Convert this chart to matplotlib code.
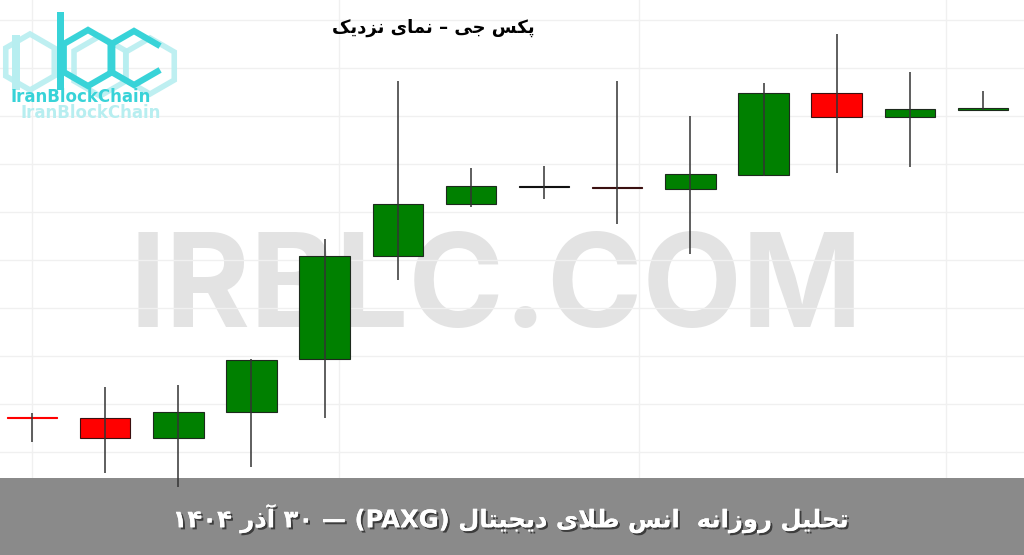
import matplotlib
matplotlib.use("Agg")
import matplotlib.pyplot as plt
from matplotlib.patches import Rectangle, RegularPolygon
import matplotlib.patheffects as pe
import numpy as np

# ---------------- data (PAXG daily candles) ----------------
opens  = [4293.3, 4293.0, 4288.0, 4294.5, 4307.8, 4333.5, 4346.5, 4350.8, 4350.8, 4350.3, 4353.8, 4374.3, 4368.3, 4370.1]
highs  = [4294.3, 4300.8, 4301.3, 4307.8, 4337.8, 4377.3, 4355.5, 4356.0, 4377.3, 4368.5, 4376.8, 4389.0, 4379.5, 4374.8]
lows   = [4287.0, 4279.3, 4275.8, 4280.8, 4293.0, 4327.5, 4345.8, 4347.8, 4341.5, 4334.0, 4353.5, 4354.3, 4355.8, 4370.1]
closes = [4293.0, 4288.0, 4294.5, 4307.5, 4333.5, 4346.5, 4351.0, 4350.8, 4350.5, 4354.0, 4374.3, 4368.3, 4370.3, 4370.4]

title_text = "پکس جی – نمای نزدیک"
footer_text = "تحلیل روزانه  انس طلای دیجیتال (PAXG) — ۳۰ آذر ۱۴۰۴"
watermark_text = "IRBLC.COM"
logo_text = "IranBlockChain"

# ---------------- minimal Persian shaping (visual order) ----------------
FORMS = {
    'ا': ('\uFE8D', '\uFE8E', None, None),
    'آ': ('\uFE81', '\uFE82', None, None),
    'پ': ('\uFB56', '\uFB57', '\uFB58', '\uFB59'),
    'ت': ('\uFE95', '\uFE96', '\uFE97', '\uFE98'),
    'ج': ('\uFE9D', '\uFE9E', '\uFE9F', '\uFEA0'),
    'ح': ('\uFEA1', '\uFEA2', '\uFEA3', '\uFEA4'),
    'د': ('\uFEA9', '\uFEAA', None, None),
    'ذ': ('\uFEAB', '\uFEAC', None, None),
    'ر': ('\uFEAD', '\uFEAE', None, None),
    'ز': ('\uFEAF', '\uFEB0', None, None),
    'س': ('\uFEB1', '\uFEB2', '\uFEB3', '\uFEB4'),
    'ط': ('\uFEC1', '\uFEC2', '\uFEC3', '\uFEC4'),
    'ک': ('\uFB8E', '\uFB8F', '\uFB90', '\uFB91'),
    'ل': ('\uFEDD', '\uFEDE', '\uFEDF', '\uFEE0'),
    'م': ('\uFEE1', '\uFEE2', '\uFEE3', '\uFEE4'),
    'ن': ('\uFEE5', '\uFEE6', '\uFEE7', '\uFEE8'),
    'ه': ('\uFEE9', '\uFEEA', '\uFEEB', '\uFEEC'),
    'و': ('\uFEED', '\uFEEE', None, None),
    'ی': ('\uFBFC', '\uFBFD', '\uFBFE', '\uFBFF'),
}
LAMALEF = {'ا': ('\uFEFB', '\uFEFC'), 'آ': ('\uFEF5', '\uFEF6')}


def dual(c):
    return c in FORMS and FORMS[c][2] is not None


def shape_word(w):
    chars = list(w)
    n = len(chars)
    res = []
    i = 0
    while i < n:
        c = chars[i]
        if c not in FORMS:
            res.append(c)
            i += 1
            continue
        prev = chars[i - 1] if i > 0 else None
        nxt = chars[i + 1] if i + 1 < n else None
        jp = dual(prev)
        if c == 'ل' and nxt in LAMALEF:
            res.append(LAMALEF[nxt][1] if jp else LAMALEF[nxt][0])
            i += 2
            continue
        jn = dual(c) and (nxt in FORMS)
        iso, fin, ini, med = FORMS[c]
        if jp and jn:
            res.append(med)
        elif jn:
            res.append(ini)
        elif jp:
            res.append(fin)
        else:
            res.append(iso)
        i += 1
    return ''.join(reversed(res))


def visual(text):
    out = []
    for t in text.split(' '):
        if any(ch in FORMS for ch in t):
            out.append(shape_word(t))
        else:
            out.append(t)
    return ' '.join(reversed(out))


# ---------------- figure ----------------
W, H = 1024, 555
fig = plt.figure(figsize=(W / 100, H / 100), dpi=100)
fig.patch.set_facecolor('white')
ax = fig.add_axes([0, 0, 1, 1])
ax.set_facecolor('white')

px_per_unit = 73.15
ax.set_xlim(-32 / px_per_unit, (W - 32) / px_per_unit)
ax.set_ylim(4397.5 - 0.25 * H, 4397.5)

# faint grid
ax.set_xticks([0.0, 4.2, 8.3, 12.5])
ax.set_yticks(np.arange(4284.5, 4395, 12))
ax.grid(True, color='#f0f0f0', linewidth=1.0)
ax.set_axisbelow(True)
ax.tick_params(length=0, labelbottom=False, labelleft=False)
for s in ax.spines.values():
    s.set_visible(False)

# watermark
ax.text(496 / W, 1 - 327 / H, watermark_text, transform=ax.transAxes,
        fontsize=93, fontweight='bold', family='Inter', color='#e3e3e3',
        ha='center', va='baseline', zorder=0.5)

# bottom band
ax.add_patch(Rectangle((0, 0), 1, 77 / H, transform=ax.transAxes,
                       facecolor='#8a8a8a', edgecolor='none', zorder=1))

# candles
width = 0.69
for i, (o, h, l, c) in enumerate(zip(opens, highs, lows, closes)):
    if c > o:
        col, edge = '#008000', '#1d2a1d'
    elif c < o:
        col, edge = '#ff0000', '#3a1010'
    else:
        col, edge = '#111111', '#111111'
    body = abs(c - o)
    if body < 0.5:
        edge = col if i == 0 else edge
        body = 0.3
    ax.vlines(i, l, h, color='#333333', linewidth=1.1, zorder=3)
    ax.add_patch(Rectangle((i - width / 2, min(o, c)), width, body,
                           facecolor=col, edgecolor=edge, linewidth=0.8, zorder=2))

# title
ax.text(433 / W, 1 - 28 / H, visual(title_text), transform=ax.transAxes,
        fontsize=13, fontweight='bold', color='black', ha='center', va='center',
        family='DejaVu Sans', zorder=5)

# footer text
ax.text(510 / W, 1 - 519 / H, visual(footer_text), transform=ax.transAxes,
        fontsize=17.5, fontweight='bold', color='white', ha='center', va='center',
        family='DejaVu Sans', zorder=5,
        path_effects=[pe.withSimplePatchShadow(offset=(1.5, -1.5), shadow_rgbFace='#2a2a2a', alpha=0.8),
                      pe.Normal()])

# ---------------- logo (pixel coordinates overlay) ----------------
lx = fig.add_axes([0, 0, 1, 1], zorder=5)
lx.set_xlim(0, W)
lx.set_ylim(H, 0)
lx.axis('off')
light = '#b7eef0'
cyan = '#38d3d8'
for (cx, cy, r) in [(30, 62, 28), (100, 66, 30), (150, 66, 28)]:
    lx.add_patch(RegularPolygon((cx, cy), 6, radius=r, orientation=0, fill=False,
                                edgecolor=light, linewidth=4, alpha=0.9))
# i
lx.add_patch(Rectangle((12, 35), 8, 55, facecolor=light, edgecolor='none'))
# b
lx.add_patch(Rectangle((57, 12), 7, 78, facecolor=cyan, edgecolor='none'))
lx.add_patch(RegularPolygon((88, 58), 6, radius=28, orientation=0, fill=False,
                            edgecolor=cyan, linewidth=4.5))
# c (open hexagon)
ang = np.deg2rad(np.array([30, 90, 150, 210, 270, 330]))
ccx, ccy, cr = 134, 58, 27
pts = [(ccx + cr * np.cos(a), ccy - cr * np.sin(a)) for a in ang]
lx.plot([p[0] for p in pts], [p[1] for p in pts], color=cyan, linewidth=4.5,
        solid_joinstyle='miter')
lx.text(10, 97, logo_text, fontsize=12, fontweight='bold', color=cyan,
        ha='left', va='center', family='DejaVu Sans')
lx.text(20, 113, logo_text, fontsize=12, fontweight='bold', color=light,
        ha='left', va='center', family='DejaVu Sans')

fig.savefig('out.png', dpi=100, facecolor='white')
